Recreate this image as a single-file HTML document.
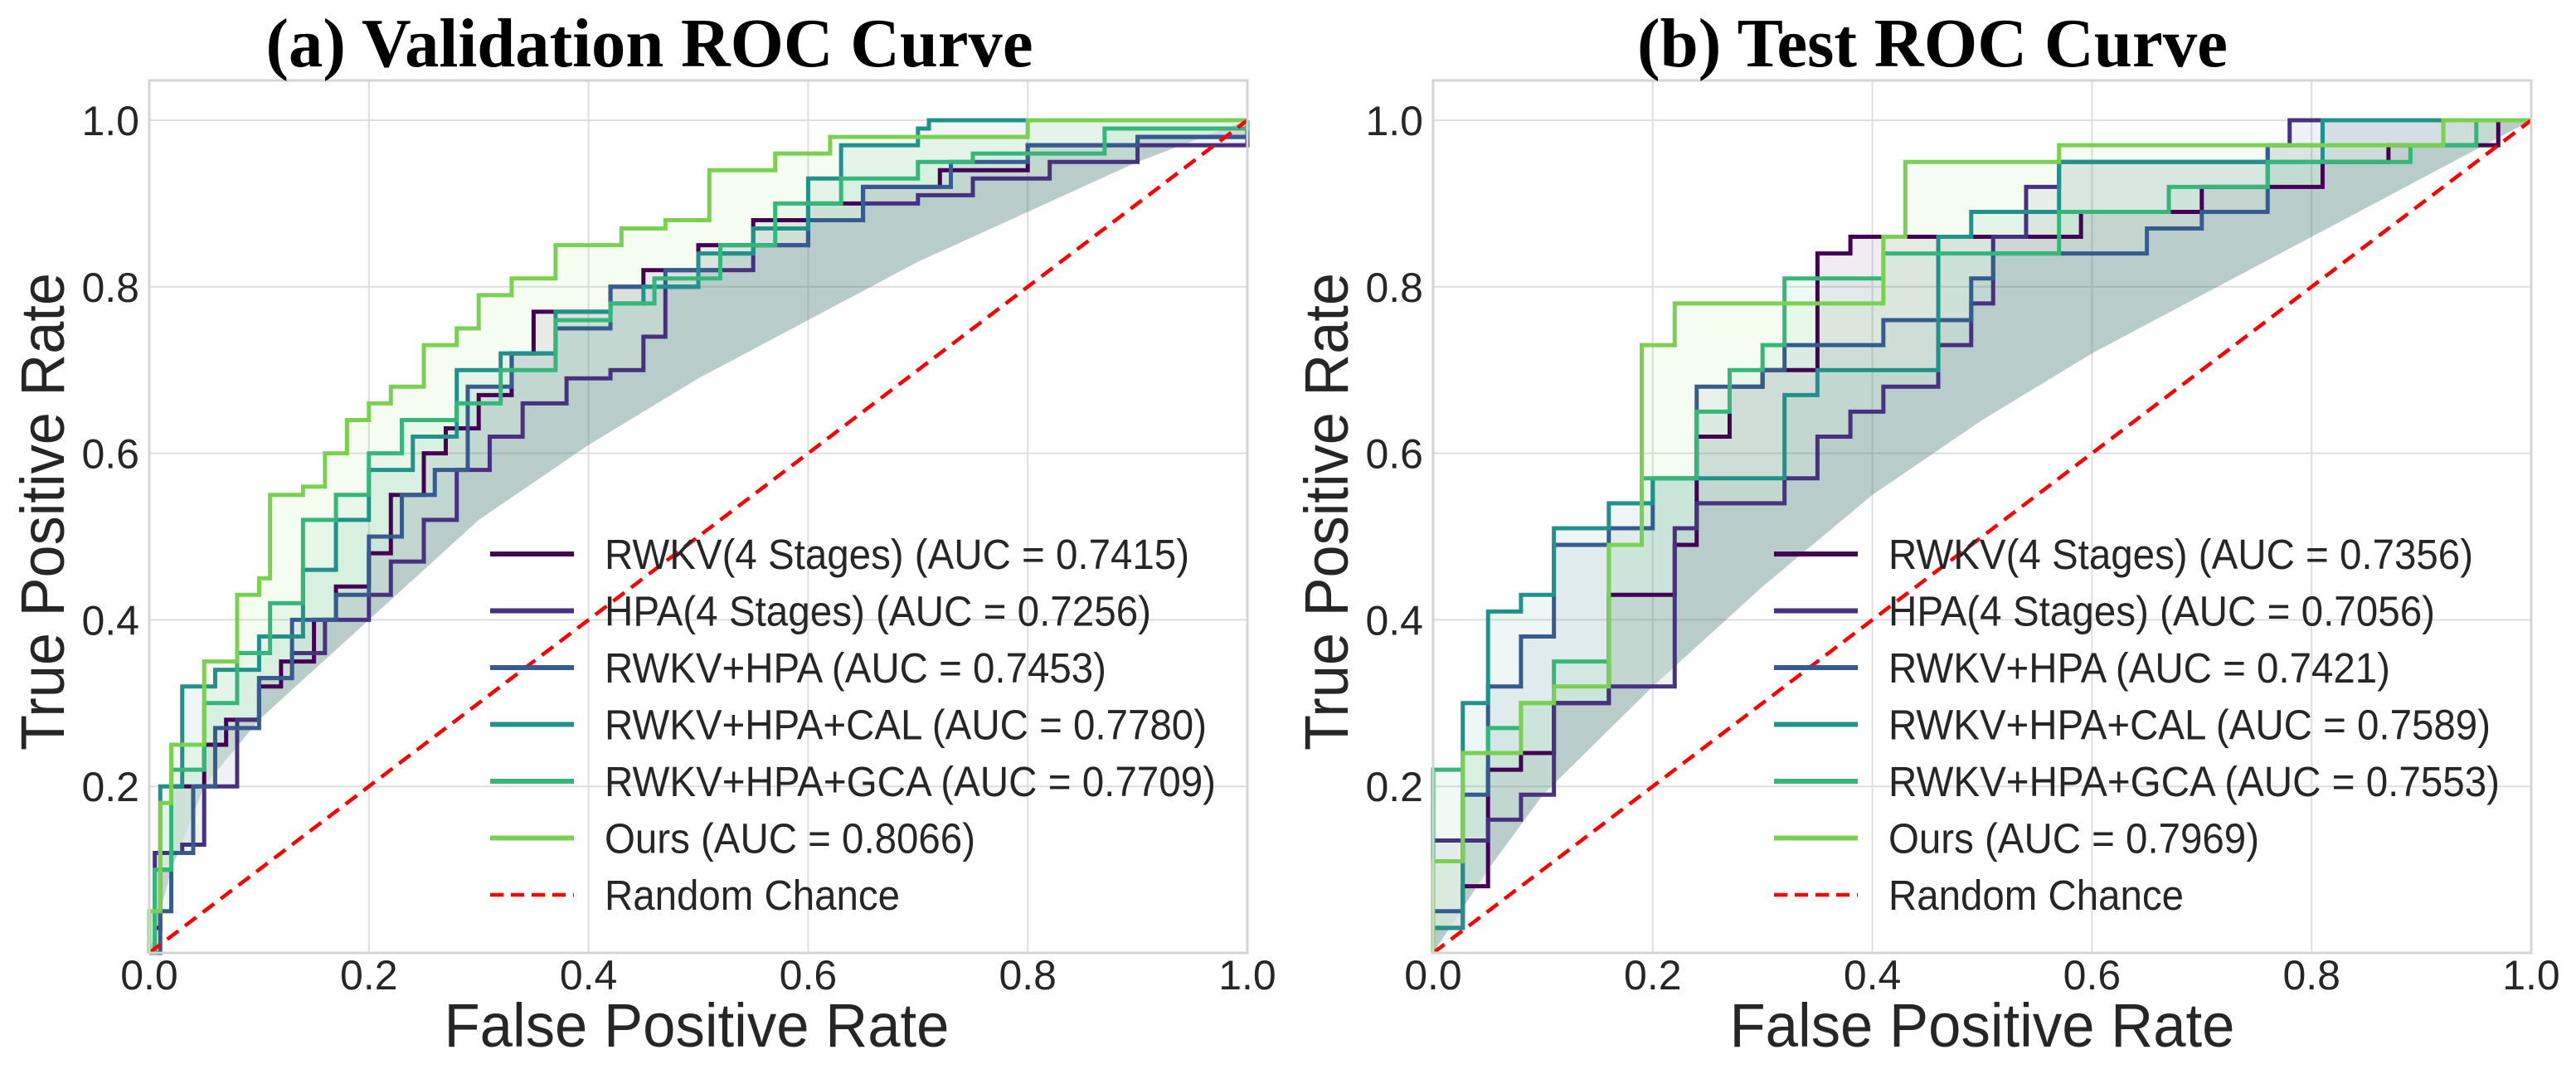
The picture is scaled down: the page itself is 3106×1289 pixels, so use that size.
<!DOCTYPE html>
<html><head><meta charset="utf-8"><style>
html,body{margin:0;padding:0;background:#fff}
svg{display:block}
</style></head><body>
<svg id="fig" xmlns="http://www.w3.org/2000/svg" width="3106" height="1289" viewBox="0 0 3106 1289"></svg>
<script>
const tickVals = [0, 0.2, 0.4, 0.6, 0.8, 1.0];
const xTickLabels = ["0.0","0.2","0.4","0.6","0.8","1.0"];
const yTickLabels = ["","0.2","0.4","0.6","0.8","1.0"];
const seriesNames = ["RWKV(4 Stages)","HPA(4 Stages)","RWKV+HPA","RWKV+HPA+CAL","RWKV+HPA+GCA","Ours"];
const seriesKeys = ["rwkv","hpa","rwkv-hpa","rwkv-hpa-cal","rwkv-hpa-gca","ours"];
const colors = ["#440154","#46327e","#365c8d","#21918c","#35b779","#7ad151"];
const valAUC = ["0.7415","0.7256","0.7453","0.7780","0.7709","0.8066"];
const testAUC = ["0.7356","0.7056","0.7421","0.7589","0.7553","0.7969"];

const valRWKV = [[0,0],[0.005,0.03],[0.01,0.1],[0.02,0.2],[0.05,0.25],[0.07,0.28],[0.1,0.32],[0.12,0.35],[0.15,0.4],[0.17,0.44],[0.2,0.48],[0.22,0.55],[0.25,0.6],[0.27,0.63],[0.3,0.67],[0.33,0.72],[0.35,0.77],[0.38,0.77],[0.42,0.8],[0.45,0.82],[0.5,0.85],[0.55,0.88],[0.6,0.9],[0.65,0.92],[0.72,0.94],[0.8,0.97],[0.9,0.98],[1,1]];
const valHPA = [[0,0],[0.005,0.12],[0.03,0.13],[0.05,0.2],[0.08,0.28],[0.1,0.33],[0.13,0.36],[0.16,0.4],[0.2,0.43],[0.22,0.47],[0.25,0.52],[0.28,0.58],[0.31,0.62],[0.34,0.66],[0.38,0.69],[0.42,0.7],[0.45,0.74],[0.47,0.8],[0.5,0.82],[0.55,0.85],[0.6,0.88],[0.65,0.9],[0.7,0.91],[0.75,0.93],[0.82,0.95],[0.9,0.97],[1,1]];
const valRH = [[0,0],[0.01,0.05],[0.02,0.12],[0.04,0.2],[0.06,0.27],[0.1,0.33],[0.13,0.4],[0.17,0.43],[0.2,0.5],[0.23,0.55],[0.26,0.58],[0.29,0.68],[0.33,0.72],[0.37,0.75],[0.42,0.8],[0.47,0.82],[0.52,0.84],[0.55,0.85],[0.6,0.88],[0.65,0.92],[0.73,0.95],[0.8,0.97],[0.9,0.98],[1,1]];
const valCAL = [[0,0],[0.005,0.05],[0.01,0.2],[0.03,0.32],[0.06,0.34],[0.1,0.38],[0.14,0.46],[0.17,0.52],[0.2,0.58],[0.24,0.62],[0.28,0.7],[0.32,0.72],[0.37,0.77],[0.42,0.78],[0.45,0.8],[0.5,0.84],[0.55,0.87],[0.6,0.93],[0.63,0.97],[0.7,0.99],[0.71,1],[1,1]];
const valGCA = [[0,0],[0.005,0.1],[0.02,0.22],[0.05,0.3],[0.08,0.36],[0.11,0.42],[0.14,0.52],[0.17,0.55],[0.2,0.6],[0.23,0.64],[0.28,0.66],[0.32,0.7],[0.37,0.76],[0.42,0.78],[0.46,0.81],[0.52,0.85],[0.57,0.9],[0.63,0.93],[0.7,0.95],[0.75,0.96],[0.87,0.99],[1,1]];
const valOurs = [[0,0],[0,0.05],[0.01,0.18],[0.02,0.25],[0.05,0.35],[0.08,0.43],[0.1,0.45],[0.11,0.55],[0.14,0.56],[0.16,0.6],[0.18,0.64],[0.2,0.66],[0.22,0.68],[0.25,0.73],[0.28,0.75],[0.3,0.79],[0.33,0.81],[0.37,0.85],[0.43,0.87],[0.47,0.88],[0.51,0.94],[0.57,0.96],[0.62,0.98],[0.8,1],[1,1]];

const testRWKV = [[0,0],[0,0.03],[0.027,0.08],[0.05,0.22],[0.08,0.24],[0.11,0.27],[0.11,0.3],[0.16,0.43],[0.22,0.49],[0.24,0.62],[0.27,0.68],[0.3,0.7],[0.35,0.76],[0.35,0.84],[0.38,0.86],[0.59,0.89],[0.7,0.92],[0.78,0.92],[0.81,0.95],[0.87,0.97],[0.97,0.98],[0.97,1],[1,1]];
const testHPA = [[0,0],[0,0.135],[0.05,0.16],[0.08,0.19],[0.11,0.3],[0.16,0.32],[0.22,0.51],[0.24,0.54],[0.32,0.57],[0.35,0.62],[0.38,0.65],[0.41,0.68],[0.46,0.73],[0.49,0.78],[0.51,0.86],[0.54,0.92],[0.57,0.95],[0.76,0.97],[0.78,1],[1,1]];
const testRH = [[0,0],[0,0.05],[0.027,0.19],[0.05,0.32],[0.08,0.38],[0.11,0.49],[0.16,0.51],[0.2,0.57],[0.24,0.68],[0.3,0.7],[0.32,0.73],[0.41,0.76],[0.46,0.76],[0.49,0.81],[0.51,0.84],[0.65,0.87],[0.7,0.89],[0.76,0.97],[0.81,1],[1,1]];
const testCAL = [[0,0],[0,0.03],[0.027,0.3],[0.05,0.41],[0.08,0.43],[0.11,0.51],[0.16,0.54],[0.2,0.57],[0.32,0.67],[0.35,0.7],[0.46,0.86],[0.49,0.89],[0.57,0.95],[0.81,1],[1,1]];
const testGCA = [[0,0],[0,0.22],[0.027,0.24],[0.05,0.27],[0.08,0.3],[0.11,0.35],[0.16,0.49],[0.19,0.57],[0.24,0.65],[0.27,0.7],[0.3,0.73],[0.32,0.81],[0.41,0.84],[0.57,0.84],[0.57,0.89],[0.67,0.92],[0.76,0.95],[0.89,0.97],[0.95,1],[1,1]];
const testOurs = [[0,0],[0,0.11],[0.027,0.24],[0.08,0.3],[0.11,0.32],[0.16,0.49],[0.19,0.73],[0.22,0.78],[0.41,0.86],[0.43,0.95],[0.57,0.97],[0.92,1],[1,1]];

const valLowerFpr = [0,0.02,0.05,0.1,0.2,0.3,0.4,0.5,0.6,0.7,0.8,0.9,1];
const valLowerTpr = [0,0.1,0.2,0.28,0.4,0.52,0.61,0.69,0.76,0.83,0.89,0.95,1];
const testLowerFpr = [0,0.05,0.1,0.2,0.3,0.4,0.5,0.6,0.7,0.8,0.9,1];
const testLowerTpr = [0,0.1,0.19,0.32,0.44,0.55,0.64,0.72,0.79,0.86,0.93,1];

const NS = "http://www.w3.org/2000/svg";
const svg = document.getElementById('fig');
function mk(tag, attrs, parent){ const e=document.createElementNS(NS,tag); for(const k in attrs) e.setAttribute(k,attrs[k]); (parent||svg).appendChild(e); return e; }

const legendWidths = [705,659,605,726,737,447,356];

function panel(cfg){
  const x0=cfg.x0, W=1324, yTop=97, y0=1149, H=1004;
  const X=v=>x0+v*W, Y=v=>y0-v*H;
  const g = mk('g',{});
  
  
  tickVals.forEach((v,i)=>{
    const gx = mk('line',{x1:X(v),x2:X(v),y1:yTop,y2:y0,stroke:'#dedede','stroke-width':2},g);
    
    
    const gy = mk('line',{x1:x0,x2:x0+W,y1:Y(v),y2:Y(v),stroke:'#dedede','stroke-width':2},g);
    
    
    const xt = mk('text',{x:X(v),y:1193,'text-anchor':'middle','font-family':'Liberation Sans, sans-serif','font-size':50,fill:'#262626'},g);
    xt.textContent = xTickLabels[i];
    
    
    if(yTickLabels[i]){
      const yt = mk('text',{x:x0-12,y:Y(v)+18,'text-anchor':'end','font-family':'Liberation Sans, sans-serif','font-size':50,fill:'#262626'},g);
      yt.textContent = yTickLabels[i];
      
      
    }
  });
  cfg.series.forEach((pts,si)=>{
    let d='M'+X(pts[0][0])+','+Y(pts[0][1]);
    for(let i=1;i<pts.length;i++){ d+=' L'+X(pts[i][0])+','+Y(pts[i-1][1])+' L'+X(pts[i][0])+','+Y(pts[i][1]); }
    for(let i=cfg.lowF.length-1;i>=0;i--){ d+=' L'+X(cfg.lowF[i])+','+Y(cfg.lowT[i]); }
    d+=' Z';
    const b = mk('path',{d:d,fill:colors[si],'fill-opacity':0.075,stroke:'none'},g);
    
    
  });
  cfg.series.forEach((pts,si)=>{
    let d='M'+X(pts[0][0])+','+Y(pts[0][1]);
    for(let i=1;i<pts.length;i++){ d+=' L'+X(pts[i][0])+','+Y(pts[i-1][1])+' L'+X(pts[i][0])+','+Y(pts[i][1]); }
    const c = mk('path',{d:d,fill:'none',stroke:colors[si],'stroke-width':5,'stroke-linejoin':'miter'},g);
    
    
  });
  const diag = mk('line',{x1:X(0),y1:Y(0),x2:X(1),y2:Y(1),stroke:'#ff0000','stroke-width':4.5,'stroke-dasharray':'17,10'},g);
  
  
  const fr = mk('rect',{x:x0,y:yTop,width:W,height:y0-yTop,fill:'none',stroke:'#d4d4d4','stroke-width':3},g);
  
  
  const lg = mk('g',{},g);
  
  
  const labels = seriesNames.map((n,i)=>n+' (AUC = '+cfg.auc[i]+')').concat(['Random Chance']);
  labels.forEach((t,i)=>{
    const cy = 668 + i*68.5;
    const ln = mk('line',{x1:x0+411,x2:x0+512,y1:cy,y2:cy,stroke:i<6?colors[i]:'#ff0000','stroke-width':i<6?6:4.5},lg);
    if(i===6) ln.setAttribute('stroke-dasharray','16,9');
    
    
    const tx = mk('text',{x:x0+549,y:cy+18,'font-family':'Liberation Sans, sans-serif','font-size':51,fill:'#262626',textLength:legendWidths[i],lengthAdjust:'spacingAndGlyphs'},lg);
    tx.textContent = t;
    
    
  });
  const tt = mk('text',{x:cfg.titleX,y:80,'text-anchor':'middle','font-family':'Liberation Serif, serif','font-weight':'bold','font-size':84,fill:'#000',textLength:cfg.titleW,lengthAdjust:'spacingAndGlyphs'},g);
  tt.textContent = cfg.title;
  
  
  const xl = mk('text',{x:x0+W/2+(cfg.xlOff||0),y:1262,'text-anchor':'middle','font-family':'Liberation Sans, sans-serif','font-size':74,fill:'#262626',textLength:609,lengthAdjust:'spacingAndGlyphs'},g);
  xl.textContent = 'False Positive Rate';
  
  
  const yl = mk('text',{x:0,y:0,'text-anchor':'middle','font-family':'Liberation Sans, sans-serif','font-size':74,fill:'#262626',textLength:576,lengthAdjust:'spacingAndGlyphs',transform:'translate('+(x0-103)+',617) rotate(-90)'},g);
  yl.textContent = 'True Positive Rate';
  
  
}

panel({key:'validation',x0:180,series:[valRWKV,valHPA,valRH,valCAL,valGCA,valOurs],auc:valAUC,lowF:valLowerFpr,lowT:valLowerTpr,title:'(a) Validation ROC Curve',titleX:783,titleW:925,xlOff:-2});
panel({key:'test',x0:1728,series:[testRWKV,testHPA,testRH,testCAL,testGCA,testOurs],auc:testAUC,lowF:testLowerFpr,lowT:testLowerTpr,title:'(b) Test ROC Curve',titleX:2330,titleW:712,xlOff:0});
</script>
</body></html>
